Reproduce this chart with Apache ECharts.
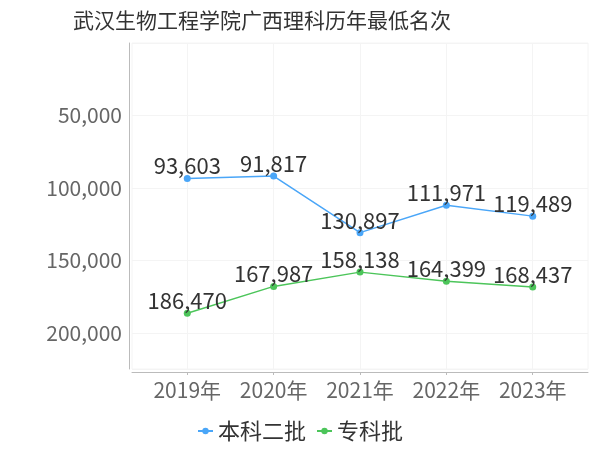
<!DOCTYPE html>
<html>
<head>
<meta charset="utf-8">
<script src="https://cdn.jsdelivr.net/npm/echarts@6/dist/echarts.min.js"></script>
<style>html,body{margin:0;padding:0;background:#fff}#c{width:600px;height:450px}</style>
</head>
<body>
<div id="c"></div>
<script>
const categories = ['2019年', '2020年', '2021年', '2022年', '2023年'];
const seriesNames = ['本科二批', '专科批'];
const benke2 = [93603, 91817, 130897, 111971, 119489];
const zhuanke = [186470, 167987, 158138, 164399, 168437];
const yTicks = [0, 50000, 100000, 150000, 200000];

const FONT = "'Noto Sans CJK SC', sans-serif";
const chart = echarts.init(document.getElementById('c'));
const idx = categories.map((_, i) => i);
function pairs(arr) { return arr.map((v, i) => [i, v]); }
const fmt = v => v.toLocaleString('en-US');

chart.setOption({
  animation: false,
  textStyle: { fontFamily: FONT },
  title: {
    text: '武汉生物工程学院广西理科历年最低名次',
    left: 68, top: 5,
    textStyle: { fontSize: 21, fontWeight: 'normal', color: '#333', fontFamily: FONT }
  },
  legend: {
    data: seriesNames,
    left: 'center', top: 415,
    itemWidth: 15, itemHeight: 8, itemGap: 10,
    textStyle: { fontSize: 22, color: '#333', fontFamily: FONT }
  },
  grid: { left: 132, right: 12, top: 43, bottom: 81, show: true, borderColor: '#f4f4f4', borderWidth: 1 },
  xAxis: {
    type: 'value', min: -0.64, max: 4.64, offset: 3,
    axisLine: { show: true, onZero: false, lineStyle: { color: '#bbb' } },
    axisTick: { show: true, length: 3, customValues: idx, lineStyle: { color: '#bbb' } },
    axisLabel: { customValues: idx, formatter: v => categories[Math.round(v)], fontSize: 21, color: '#666', margin: 8, fontFamily: FONT },
    splitLine: { show: true, lineStyle: { color: '#f4f4f4' } }
  },
  yAxis: {
    type: 'value', inverse: true, min: 0, max: 225000, interval: 50000, offset: 3,
    axisLine: { show: true, onZero: false, lineStyle: { color: '#bbb' } },
    axisTick: { show: false },
    axisLabel: { showMinLabel: false, showMaxLabel: false, fontSize: 21, color: '#666', margin: 7, formatter: v => (yTicks.includes(v) ? fmt(v) : ''), fontFamily: FONT },
    splitLine: { show: true, lineStyle: { color: '#f4f4f4' } }
  },
  series: [
    {
      name: seriesNames[0], type: 'line', data: pairs(benke2),
      symbol: 'circle', symbolSize: 7,
      itemStyle: { color: '#4aa6f8' }, lineStyle: { width: 1.5, color: '#4aa6f8' },
      label: { show: true, position: 'top', distance: -2, fontSize: 22, color: '#333', formatter: p => fmt(p.value[1]), fontFamily: FONT }
    },
    {
      name: seriesNames[1], type: 'line', data: pairs(zhuanke),
      symbol: 'circle', symbolSize: 7,
      itemStyle: { color: '#4cc55a' }, lineStyle: { width: 1.5, color: '#4cc55a' },
      label: { show: true, position: 'top', distance: -2, fontSize: 22, color: '#333', formatter: p => fmt(p.value[1]), fontFamily: FONT }
    }
  ]
});
</script>
</body>
</html>
